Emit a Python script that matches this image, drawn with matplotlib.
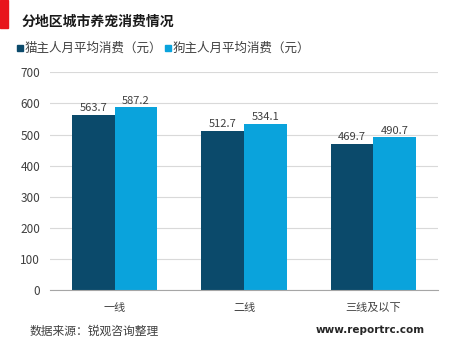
import numpy as np
import matplotlib.pyplot as plt
from matplotlib.patches import Rectangle

plt.rcParams['font.family'] = ['Noto Sans CJK SC', 'DejaVu Sans']

categories = ['一线', '二线', '三线及以下']
cat_spend = [563.7, 512.7, 469.7]
dog_spend = [587.2, 534.1, 490.7]
series_names = ['猫主人月平均消费（元）', '狗主人月平均消费（元）']
yticks = [0, 100, 200, 300, 400, 500, 600, 700]

dark = '#0b4a6b'
light = '#0aa3dc'

fig = plt.figure(figsize=(4.74, 3.47), dpi=100)
ax = fig.add_axes([50/474, 57/347, 388/474, 217.7/347])

x = np.arange(len(categories))
w = 0.33
b1 = ax.bar(x - w/2, cat_spend, w, color=dark)
b2 = ax.bar(x + w/2, dog_spend, w, color=light)

for bars, vals in [(b1, cat_spend), (b2, dog_spend)]:
    for b, v in zip(bars, vals):
        ax.text(b.get_x() + b.get_width()/2, v + 6, f'{v:.1f}',
                ha='center', va='bottom', fontsize=8, color='#404040')

ax.set_xlim(-0.5, 2.5)
ax.set_ylim(0, 700)
ax.set_yticks(yticks)
ax.set_xticks(x)
ax.set_xticklabels(categories, fontsize=8, color='#404040')
ax.tick_params(axis='y', labelsize=8.5, labelcolor='#404040', length=0, pad=7)
ax.tick_params(axis='x', length=0, pad=9)
ax.grid(axis='y', color='#d9d9d9', linewidth=0.8)
ax.set_axisbelow(True)
for s in ['top', 'right', 'left']:
    ax.spines[s].set_visible(False)
ax.spines['bottom'].set_color('#a6a6a6')

# red marker block and title
fig.patches.append(Rectangle((0, 1 - 28/347), 8/474, 28/347, transform=fig.transFigure,
                             color='#e8141c'))
fig.text(22/474, 1 - 22/347, '分地区城市养宠消费情况', fontsize=10, fontweight='bold',
         va='center', ha='left', color='#1a1a1a')

# legend
for lx, name, c in [(17, series_names[0], dark), (165, series_names[1], light)]:
    fig.patches.append(Rectangle((lx/474, 1 - 51/347), 6/474, 6/347,
                                 transform=fig.transFigure, color=c))
    fig.text((lx + 8)/474, 1 - 48/347, name, fontsize=9, va='center', ha='left',
             color='#404040')

fig.text(30/474, 1 - 331/347, '数据来源：锐观咨询整理', fontsize=8.5, va='center',
         ha='left', color='#404040')
fig.text(425/474, 1 - 330/347, 'www.reportrc.com', fontsize=7.5, fontweight='bold',
         va='center', ha='right', color='#262626', family='DejaVu Sans')

fig.savefig('out.png', dpi=100)
